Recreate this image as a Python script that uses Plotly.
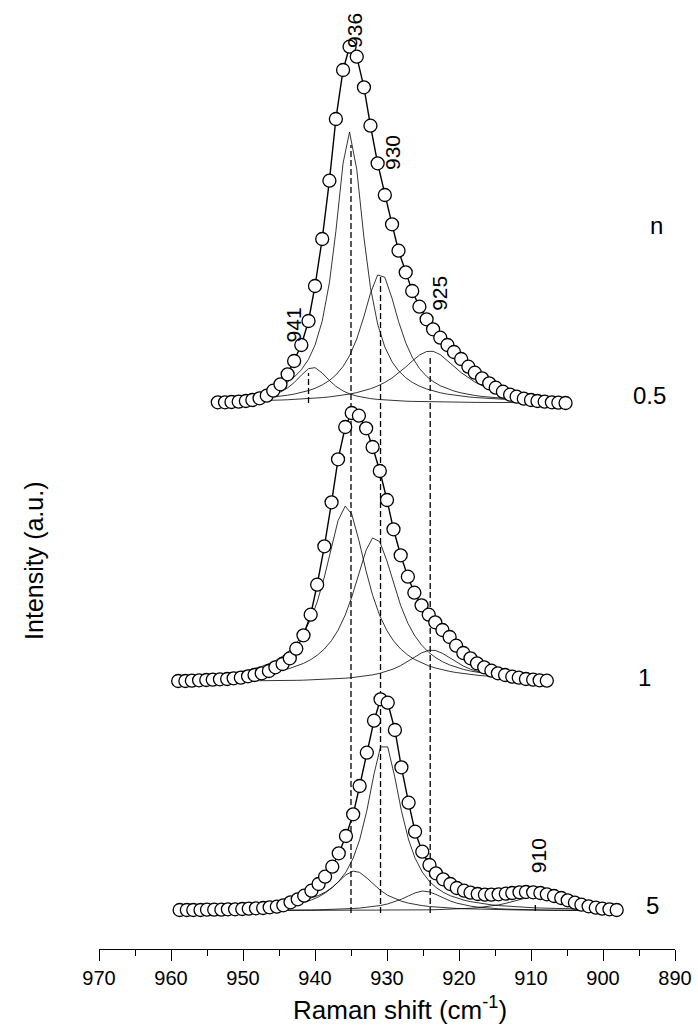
import plotly.graph_objects as go

FONT = "Liberation Sans, Arial, sans-serif"

# ---------------- data ----------------
# Raman shift positions (cm-1) of the measured points, one list per spectrum
x_n05 = [953.5, 952.5, 951.6, 950.6, 949.6, 948.7, 947.7, 946.7, 945.8, 944.8,
         943.8, 942.9, 941.9, 940.9, 940.0, 939.0, 938.0, 937.1, 936.1, 935.2,
         934.2, 933.2, 932.3, 931.3, 930.3, 929.3, 928.4, 927.4, 926.5, 925.5,
         924.5, 923.6, 922.6, 921.6, 920.7, 919.7, 918.7, 917.8, 916.8, 915.8,
         914.9, 913.9, 912.9, 912.0, 911.0, 910.0, 909.1, 908.1, 907.1, 906.2,
         905.2]
i_n05 = [0.7, 0.7, 1.0, 1.3, 2.0, 3.0, 4.7, 7.3, 12.3, 18.7,
         28.7, 42.0, 58.0, 82.0, 117.0, 164.0, 222.3, 284.0, 333.0, 356.3,
         346.3, 315.7, 277.3, 239.7, 208.0, 178.7, 152.3, 130.7, 112.0, 96.3,
         83.7, 73.7, 65.3, 58.0, 51.0, 44.0, 36.3, 30.3, 24.7, 19.7,
         15.3, 11.3, 8.3, 6.3, 4.3, 3.0, 2.0, 1.3, 0.7, 0.3,
         0.0]

x_n1 = [959.0, 958.0, 957.1, 956.1, 955.1, 954.2, 953.2, 952.2, 951.3, 950.3,
        949.3, 948.4, 947.4, 946.4, 945.5, 944.5, 943.5, 942.6, 941.6, 940.6,
        939.7, 938.7, 937.7, 936.8, 935.8, 934.9, 933.9, 932.9, 932.0, 931.0,
        930.0, 929.1, 928.1, 927.1, 926.2, 925.2, 924.2, 923.3, 922.3, 921.3,
        920.4, 919.4, 918.4, 917.5, 916.5, 915.5, 914.6, 913.6, 912.6, 911.7,
        910.7, 909.7, 908.8, 907.8]
i_n1 = [1.0, 1.0, 1.3, 1.7, 2.0, 2.3, 2.7, 3.0, 3.7, 4.3,
        5.7, 7.0, 8.7, 11.0, 14.7, 18.0, 23.7, 33.3, 46.7, 67.3,
        97.3, 135.7, 179.7, 222.7, 255.0, 269.0, 266.3, 253.7, 235.0, 211.0,
        182.0, 152.7, 126.7, 105.3, 89.3, 76.7, 67.3, 59.7, 52.0, 45.0,
        36.3, 29.0, 23.7, 18.7, 14.7, 11.3, 8.7, 7.0, 5.3, 4.3,
        3.0, 2.3, 1.7, 1.3]

x_n5 = [958.8, 957.8, 956.9, 955.9, 955.0, 954.0, 953.0, 952.1, 951.1, 950.1,
        949.2, 948.2, 947.2, 946.3, 945.3, 944.4, 943.4, 942.4, 941.5, 940.5,
        939.5, 938.6, 937.6, 936.7, 935.7, 934.7, 933.8, 932.8, 931.8, 930.9,
        929.9, 928.9, 928.0, 927.0, 926.1, 925.1, 924.1, 923.2, 922.2, 921.2,
        920.3, 919.3, 918.4, 917.4, 916.4, 915.5, 914.5, 913.5, 912.6, 911.6,
        910.7, 909.7, 908.7, 907.8, 906.8, 905.8, 904.9, 903.9, 903.0, 902.0,
        901.0, 900.1, 899.1, 898.1]
i_n5 = [1.0, 1.0, 1.0, 1.0, 1.3, 1.3, 1.3, 1.7, 1.7, 2.0,
        2.3, 2.7, 3.0, 3.7, 4.3, 5.7, 8.7, 11.7, 15.3, 20.3,
        27.0, 34.3, 44.3, 57.7, 75.0, 96.7, 125.0, 158.3, 190.3, 211.7,
        208.3, 181.0, 143.7, 108.3, 79.3, 59.3, 46.0, 37.7, 31.7, 27.0,
        23.0, 20.3, 18.3, 17.0, 16.3, 16.3, 16.7, 17.3, 18.0, 18.7,
        19.0, 18.7, 18.0, 16.7, 15.0, 13.0, 10.7, 8.3, 6.3, 4.7,
        3.3, 2.3, 1.7, 1.0]

# vertical stacking offsets of the three spectra (a.u.)
offset_n05 = 546
offset_n1 = 267
offset_n5 = 38

# fitted Lorentzian components: centre, height, half width
comp_n05_center = [940.3, 935.2, 930.9, 924.0]
comp_n05_height = [35.7, 271.0, 130.0, 52.0]
comp_n05_hwhm = [3.0, 2.5, 3.25, 5.1]

comp_n1_center = [935.7, 931.7, 923.8]
comp_n1_height = [176.0, 145.0, 32.0]
comp_n1_hwhm = [3.65, 3.8, 4.4]

comp_n5_center = [934.5, 930.4, 924.9, 909.5]
comp_n5_height = [40.0, 169.0, 20.0, 14.0]
comp_n5_hwhm = [3.7, 2.9, 3.7, 4.4]

# dashed marker lines: position, upper and lower end (a.u.)
mark_x = [935.0, 930.9, 924.0, 940.9, 909.4]
mark_top = [804, 672, 592, 576, 47]
mark_bottom = [36, 36, 36, 546, 38]

# peak labels
peak_labels = ["936", "930", "925", "941", "910"]
peak_label_x = [934.6, 929.3, 922.8, 943.0, 909.0]
peak_label_y = [919, 796, 656, 624, 93]

# sample labels (n)
n_labels = ["n", "0.5", "1", "5"]
n_label_x = [892.6, 893.5, 894.2, 893.1]
n_label_y = [724, 554, 272, 44]

x_ticks = [970, 960, 950, 940, 930, 920, 910, 900, 890]

# ---------------- figure ----------------
fig = go.Figure()


def lorentz(xs, c, h, w):
    return [h / (1.0 + ((x - c) / w) ** 2) for x in xs]


spectra = [
    (x_n05, i_n05, offset_n05, comp_n05_center, comp_n05_height, comp_n05_hwhm),
    (x_n1, i_n1, offset_n1, comp_n1_center, comp_n1_height, comp_n1_hwhm),
    (x_n5, i_n5, offset_n5, comp_n5_center, comp_n5_height, comp_n5_hwhm),
]

# components (thin lines)
for xs, ys, off, cc, hh, ww in spectra:
    for c, h, w in zip(cc, hh, ww):
        fig.add_trace(go.Scatter(
            x=xs, y=[off + v for v in lorentz(xs, c, h, w)], mode="lines",
            line=dict(color="black", width=0.8), hoverinfo="skip", showlegend=False))

# dashed lines
for mx, mt, mb in zip(mark_x, mark_top, mark_bottom):
    fig.add_trace(go.Scatter(
        x=[mx, mx], y=[mb, mt], mode="lines",
        line=dict(color="black", width=1.3, dash="6px,3px"),
        hoverinfo="skip", showlegend=False))

# measured spectra with connecting line
for xs, ys, off, cc, hh, ww in spectra:
    fig.add_trace(go.Scatter(
        x=xs, y=[off + v for v in ys], mode="lines+markers",
        line=dict(color="black", width=1.4),
        marker=dict(symbol="circle", size=13, color="white",
                    line=dict(color="black", width=1.3)),
        showlegend=False))

annotations = []
for t, ax_, ay_ in zip(peak_labels, peak_label_x, peak_label_y):
    annotations.append(dict(x=ax_, y=ay_, xref="x", yref="y", text=t, showarrow=False,
                            textangle=-90, xanchor="center", yanchor="middle",
                            font=dict(family=FONT, size=21, color="black")))
for t, ax_, ay_ in zip(n_labels, n_label_x, n_label_y):
    annotations.append(dict(x=ax_, y=ay_, xref="x", yref="y", text=t, showarrow=False,
                            xanchor="center", yanchor="middle",
                            font=dict(family=FONT, size=24, color="black")))
annotations.append(dict(x=-0.113, y=388, xref="paper", yref="y", text="Intensity (a.u.)",
                        showarrow=False, textangle=-90, xanchor="center", yanchor="middle",
                        font=dict(family=FONT, size=25, color="black")))
annotations.append(dict(x=0.5226, y=-0.0622, xref="paper", yref="paper",
                        text="Raman shift (cm<sup>-1</sup>)", showarrow=False,
                        xanchor="center", yanchor="middle",
                        font=dict(family=FONT, size=26, color="black")))

fig.update_layout(
    width=698, height=1026,
    margin=dict(l=99, r=23, t=0, b=77),
    paper_bgcolor="white", plot_bgcolor="white",
    font=dict(family=FONT, color="black"),
    annotations=annotations,
    xaxis=dict(range=[970, 890], tickmode="array", tickvals=x_ticks,
               ticktext=[str(v) for v in x_ticks],
               ticks="outside", ticklen=11, tickwidth=1.3, tickcolor="black",
               showline=True, linecolor="black", linewidth=1.3,
               showgrid=False, zeroline=False,
               tickfont=dict(family=FONT, size=20, color="black"),
               minor=dict(dtick=5, tick0=890, ticks="outside", ticklen=6,
                          tickwidth=1.3, tickcolor="black", showgrid=False)),
    yaxis=dict(range=[0, 949], visible=False),
)

fig.write_html(
    "out.html",
    config={"displayModeBar": False},
    post_script="document.body.style.margin='0';document.body.style.padding='0';"
                "document.documentElement.style.margin='0';",
)
